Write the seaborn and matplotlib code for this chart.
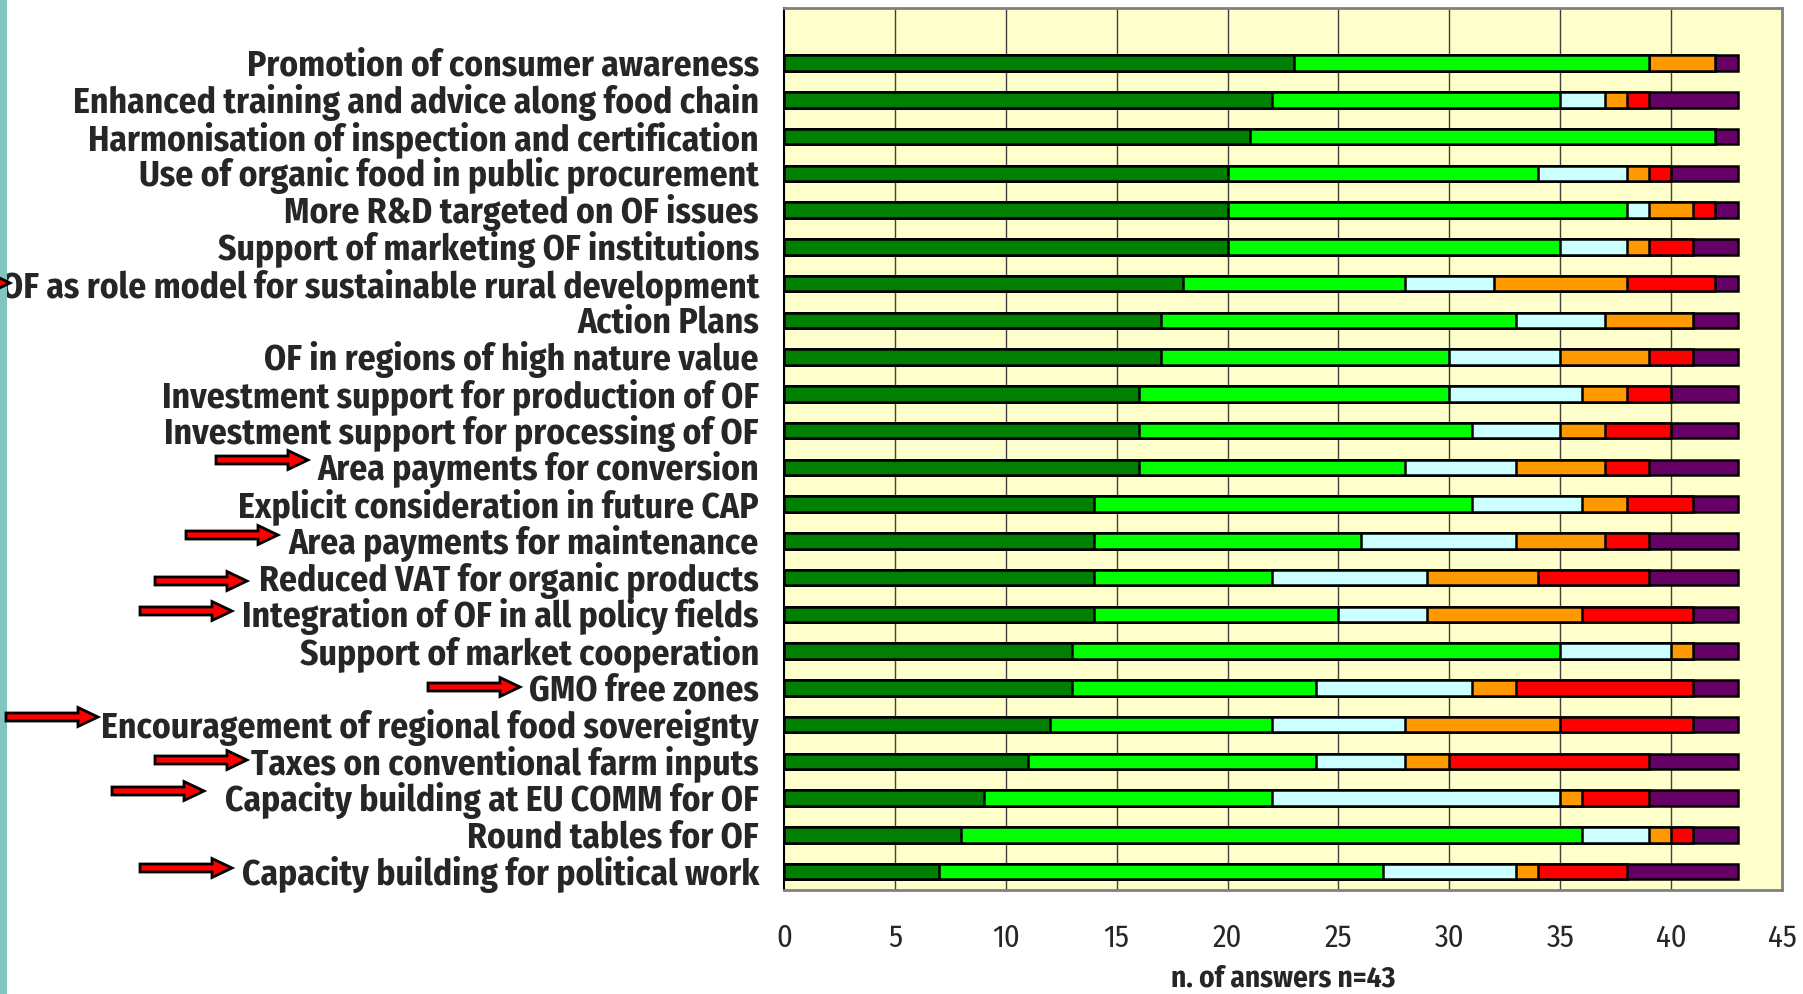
import numpy as np
import pandas as pd
import seaborn as sns
import matplotlib
matplotlib.use("Agg")
import matplotlib.pyplot as plt
from matplotlib.patches import FancyArrow, Rectangle
from matplotlib.transforms import IdentityTransform, ScaledTranslation

categories = [
    "Promotion of consumer awareness",
    "Enhanced training and advice along food chain",
    "Harmonisation of inspection and certification",
    "Use of organic food in public procurement",
    "More R&D targeted on OF issues",
    "Support of marketing OF institutions",
    "OF as role model for sustainable rural development",
    "Action Plans",
    "OF in regions of high nature value",
    "Investment support for production of OF",
    "Investment support for processing of OF",
    "Area payments for conversion",
    "Explicit consideration in future CAP",
    "Area payments for maintenance",
    "Reduced VAT for organic products",
    "Integration of OF in all policy fields",
    "Support of market cooperation",
    "GMO free zones",
    "Encouragement of regional food sovereignty",
    "Taxes on conventional farm inputs",
    "Capacity building at EU COMM for OF",
    "Round tables for OF",
    "Capacity building for political work",
]
very_high = [23, 22, 21, 20, 20, 20, 18, 17, 17, 16, 16, 16, 14, 14, 14, 14, 13, 13, 12, 11, 9, 8, 7]
high      = [16, 13, 21, 14, 18, 15, 10, 16, 13, 14, 15, 12, 17, 12, 8, 11, 22, 11, 10, 13, 13, 28, 20]
medium    = [0, 2, 0, 4, 1, 3, 4, 4, 5, 6, 4, 5, 5, 7, 7, 4, 5, 7, 6, 4, 13, 3, 6]
low       = [3, 1, 0, 1, 2, 1, 6, 4, 4, 2, 2, 4, 2, 4, 5, 7, 1, 2, 7, 2, 1, 1, 1]
very_low  = [0, 1, 0, 1, 1, 2, 4, 0, 2, 2, 3, 2, 3, 2, 5, 5, 0, 8, 6, 9, 3, 1, 4]
no_answer = [1, 4, 1, 3, 1, 2, 1, 2, 2, 3, 3, 4, 2, 4, 4, 2, 2, 2, 2, 4, 4, 2, 5]
series_names = ["very high", "high", "medium", "low", "very low", "no answer"]
series_colors = ["#008000", "#00FF00", "#CCFFFF", "#FF9900", "#FF0000", "#660066"]
x_ticks = [0, 5, 10, 15, 20, 25, 30, 35, 40, 45]
x_label = "n. of answers n=43"

sns.set_style("white")
narrow = ["Fira Sans Condensed", "Liberation Sans", "DejaVu Sans"]
plt.rcParams["font.family"] = narrow

W, H = 1803, 995
fig = plt.figure(figsize=(W / 100, H / 100), dpi=100)
fig.patch.set_facecolor("white")
ax = fig.add_axes([784 / W, (H - 891) / H, (1782 - 784) / W, (891 - 9) / H])
ax.set_facecolor("#FFFFCC")

df = pd.DataFrame({"category": categories})
series = [very_high, high, medium, low, very_low, no_answer]
cum = np.cumsum(np.array(series), axis=0)
for name, vals in zip(series_names, cum):
    df[name] = vals

# draw cumulative bars from the total down to the first segment
for i in range(len(series_names) - 1, -1, -1):
    sns.barplot(data=df, x=series_names[i], y="category", order=categories,
                orient="h", color=series_colors[i], saturation=1, width=0.42,
                edgecolor="black", linewidth=1.8, ax=ax, zorder=3)

ax.set_xlim(0, 45)
ax.set_ylim(22.5, -1.5)
ax.set_xticks(x_ticks)
ax.set_xticklabels([str(t) for t in x_ticks], fontsize=22)
ax.tick_params(axis="x", direction="out", length=9, width=1.5, color="#808080", pad=14)
ax.set_yticks(range(len(categories)))
ax.set_yticklabels(categories, fontsize=25.5, fontweight="bold")
ax.tick_params(axis="y", which="major", length=0, pad=18)
ax.set_yticks(np.arange(-1.5, 23, 2), minor=True)
ax.tick_params(axis="y", which="minor", direction="out", length=8, width=1.5, color="black")
shift = ScaledTranslation(0, 2.5 / 100, fig.dpi_scale_trans)
for lbl in ax.get_yticklabels():
    lbl.set_transform(lbl.get_transform() + shift)
ax.set_ylabel("")
ax.set_xlabel(x_label, fontsize=21, fontweight="bold", labelpad=8)

for xv in x_ticks[1:-1]:
    ax.axvline(xv, color="#404040", lw=1.0, zorder=1)
for s in ["top", "right", "bottom"]:
    ax.spines[s].set_color("#808080")
    ax.spines[s].set_linewidth(2)
ax.spines["left"].set_color("black")
ax.spines["left"].set_linewidth(1.5)

# teal strip at left edge
fig.add_artist(Rectangle((0, 0), 7, H, transform=IdentityTransform(),
                         facecolor="#80C6BF", edgecolor="none"))

# red arrows pointing to labels (pixel coords: x_start, x_end, y from top)
arrow_px = [(216, 308, 461), (186, 278, 536), (155, 247, 582), (140, 232, 612),
            (428, 520, 688), (6, 98, 718), (155, 247, 761), (112, 204, 792),
            (140, 232, 869), (-80, 10, 284)]
for x0, x1, yt in arrow_px:
    y = H - yt
    fig.add_artist(FancyArrow(x0, y, x1 - x0, 0, width=8, head_width=19,
                              head_length=20, length_includes_head=True,
                              transform=IdentityTransform(), facecolor="#FF0000",
                              edgecolor="black", linewidth=2, zorder=10))

fig.savefig("out.png", dpi=100)
